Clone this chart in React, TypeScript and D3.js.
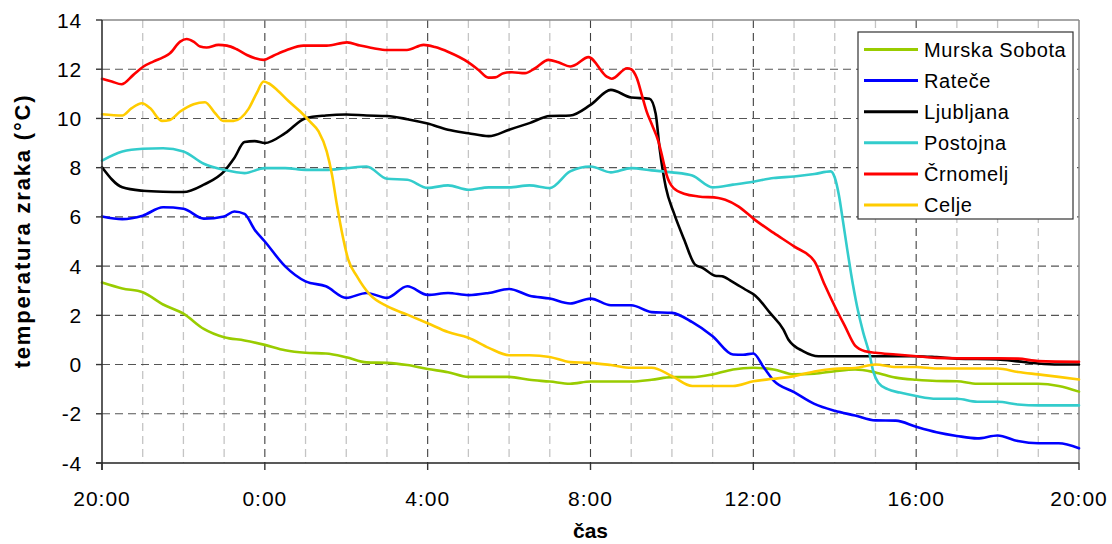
import * as d3 from "d3";
import React from "react";

// hours counted from 20:00 of the first day
const murskaSobota: [number, number][] = [
  [0, 3.33], [0.5, 3.09], [1, 2.94], [1.5, 2.44], [2, 2.07], [2.5, 1.45], [3, 1.11], [3.5, 0.98],
  [4, 0.8], [4.5, 0.58], [5, 0.48], [5.5, 0.45], [6, 0.3], [6.5, 0.09], [7, 0.07], [7.5, -0.02],
  [8, -0.18], [8.5, -0.31], [9, -0.5], [9.5, -0.5], [10, -0.5], [10.5, -0.62], [11, -0.69],
  [11.5, -0.78], [12, -0.69], [12.5, -0.69], [13, -0.69], [13.5, -0.62], [14, -0.51], [14.5, -0.51],
  [15, -0.4], [15.5, -0.2], [16, -0.13], [16.5, -0.2], [17, -0.4], [17.5, -0.37], [18, -0.27],
  [18.5, -0.2], [19, -0.32], [19.5, -0.53], [20, -0.62], [20.5, -0.67], [21, -0.68], [21.5, -0.78],
  [22, -0.78], [22.5, -0.78], [23, -0.78], [23.5, -0.87], [24, -1.1],
];

const ratece: [number, number][] = [
  [0, 6.02], [0.5, 5.91], [1, 6.05], [1.5, 6.39], [2, 6.33], [2.5, 5.93], [3, 6.02], [3.25, 6.22],
  [3.5, 6.12], [3.75, 5.48], [4, 5.0], [4.5, 3.99], [5, 3.38], [5.5, 3.18], [6, 2.71], [6.5, 2.91],
  [7, 2.71], [7.5, 3.18], [8, 2.83], [8.5, 2.91], [9, 2.82], [9.5, 2.91], [10, 3.07], [10.5, 2.8],
  [11, 2.68], [11.5, 2.48], [12, 2.68], [12.5, 2.41], [13, 2.41], [13.5, 2.13], [14, 2.1],
  [14.5, 1.72], [15, 1.15], [15.5, 0.41], [15.75, 0.4], [16, 0.45], [16.25, -0.1], [16.5, -0.65],
  [17, -1.12], [17.5, -1.6], [18, -1.88], [18.5, -2.07], [19, -2.27], [19.5, -2.28], [20, -2.53],
  [20.5, -2.75], [21, -2.9], [21.5, -3.0], [22, -2.88], [22.5, -3.11], [23, -3.2], [23.5, -3.2],
  [24, -3.4],
];

const ljubljana: [number, number][] = [
  [0, 8.02], [0.5, 7.2], [1, 7.06], [1.5, 7.02], [2, 7.01], [2.5, 7.31], [3, 7.85], [3.25, 8.39],
  [3.5, 9.04], [3.75, 9.08], [4, 9.0], [4.5, 9.4], [5, 10.01], [5.5, 10.12], [6, 10.16],
  [6.5, 10.12], [7, 10.1], [7.5, 9.97], [8, 9.79], [8.5, 9.54], [9, 9.4], [9.5, 9.28], [10, 9.54],
  [10.5, 9.81], [11, 10.1], [11.5, 10.12], [12, 10.55], [12.5, 11.16], [13, 10.85], [13.45, 10.8],
  [13.6, 10.2], [13.7, 8.75], [13.85, 7.2], [14.05, 6.15], [14.3, 5.08], [14.57, 4.06],
  [14.75, 3.93], [15.06, 3.61], [15.23, 3.59], [15.47, 3.38], [15.8, 3.05], [16.05, 2.8],
  [16.41, 2.1], [16.74, 1.42], [16.86, 1.02], [17.23, 0.54], [17.6, 0.34], [20, 0.34],
  [20.5, 0.3], [21, 0.24], [22, 0.21], [22.5, 0.13], [23, 0.04], [23.5, 0], [24, 0],
];

const postojna: [number, number][] = [
  [0, 8.29], [0.5, 8.66], [1, 8.77], [1.5, 8.79], [2, 8.66], [2.5, 8.16], [3, 7.91], [3.5, 7.78],
  [4, 7.98], [4.5, 7.98], [5, 7.91], [5.5, 7.91], [6, 7.98], [6.5, 8.05], [7, 7.55], [7.5, 7.51],
  [8, 7.18], [8.5, 7.28], [9, 7.1], [9.5, 7.2], [10, 7.2], [10.5, 7.28], [11, 7.17], [11.5, 7.85],
  [12, 8.05], [12.5, 7.81], [13, 7.98], [13.5, 7.89], [14, 7.81], [14.5, 7.68], [15, 7.2],
  [15.5, 7.31], [16, 7.43], [16.5, 7.58], [17, 7.64], [17.5, 7.74], [17.9, 7.85], [18.0, 7.6],
  [18.1, 6.9], [18.2, 5.85], [18.3, 4.75], [18.4, 3.7], [18.55, 2.35], [18.7, 1.3], [18.85, 0.45],
  [18.95, -0.3], [19.07, -0.74], [19.3, -1.0], [19.6, -1.14], [20, -1.28], [20.5, -1.39],
  [21, -1.39], [21.5, -1.51], [22, -1.51], [22.5, -1.62], [23, -1.66], [24, -1.66],
];

const crnomelj: [number, number][] = [
  [0, 11.61], [0.24, 11.5], [0.48, 11.39], [0.77, 11.77], [1.02, 12.11], [1.26, 12.31],
  [1.51, 12.49], [1.67, 12.65], [1.92, 13.12], [2.08, 13.23], [2.25, 13.12], [2.41, 12.92],
  [2.57, 12.88], [2.86, 12.99], [3.07, 12.96], [3.31, 12.81], [3.56, 12.58], [3.76, 12.45],
  [3.97, 12.38], [4.21, 12.55], [4.54, 12.78], [4.95, 12.96], [5.52, 12.96], [6.02, 13.09],
  [6.34, 12.96], [6.67, 12.85], [7.0, 12.78], [7.49, 12.78], [7.9, 12.99], [8.18, 12.9],
  [8.51, 12.7], [9.0, 12.28], [9.25, 11.97], [9.49, 11.66], [9.66, 11.67], [9.86, 11.84],
  [10.07, 11.88], [10.39, 11.84], [10.64, 12.04], [10.97, 12.38], [11.21, 12.28], [11.5, 12.11],
  [11.62, 12.17], [11.95, 12.49], [12.4, 11.7], [12.52, 11.61], [12.9, 12.04], [13.0, 12.0],
  [13.14, 11.63], [13.26, 10.96], [13.38, 10.28], [13.51, 9.74], [13.67, 9.06], [13.79, 8.25],
  [13.87, 7.71], [14.04, 7.17], [14.32, 6.93], [14.65, 6.83], [15.14, 6.77], [15.31, 6.7],
  [15.63, 6.43], [16.04, 5.88], [16.5, 5.35], [17, 4.8], [17.5, 4.2], [17.75, 3.25], [18, 2.37],
  [18.25, 1.56], [18.5, 0.77], [18.75, 0.54], [19, 0.48], [19.5, 0.41], [20, 0.34], [20.5, 0.27],
  [21, 0.25], [22, 0.25], [22.5, 0.24], [23, 0.14], [24, 0.11],
];

const celje: [number, number][] = [
  [0, 10.17], [0.5, 10.12], [0.73, 10.42], [0.98, 10.62], [1.18, 10.42], [1.47, 9.9],
  [1.67, 9.94], [1.92, 10.28], [2.25, 10.58], [2.53, 10.66], [2.78, 10.21], [2.98, 9.9],
  [3.23, 9.9], [3.6, 10.39], [3.8, 11.03], [3.97, 11.5], [4.09, 11.43], [4.3, 11.16],
  [4.58, 10.71], [4.87, 10.28], [5.11, 9.87], [5.32, 9.47], [5.52, 8.66], [5.65, 7.71],
  [5.77, 6.49], [5.89, 5.41], [6.05, 4.26], [6.26, 3.59], [6.58, 2.84], [7, 2.37], [7.5, 2.03],
  [8, 1.68], [8.5, 1.32], [9, 1.09], [9.5, 0.68], [10, 0.38], [10.5, 0.38], [11, 0.31],
  [11.5, 0.1], [12, 0.07], [12.5, -0.02], [13, -0.13], [13.5, -0.13], [14, -0.47], [14.5, -0.87],
  [15, -0.87], [15.5, -0.87], [16, -0.68], [16.5, -0.58], [17, -0.47], [17.5, -0.28], [18, -0.17],
  [18.5, -0.14], [19, 0.0], [19.5, -0.1], [20, -0.1], [20.5, -0.16], [22, -0.16], [22.5, -0.3],
  [23, -0.4], [23.5, -0.5], [24, -0.61],
];

const seriesNames = ["Murska Sobota", "Rateče", "Ljubljana", "Postojna", "Črnomelj", "Celje"];
const seriesColors = ["#99CC00", "#0000FF", "#000000", "#33CCCC", "#FF0000", "#FFCC00"];
const seriesData = [murskaSobota, ratece, ljubljana, postojna, crnomelj, celje];

const xTickHours = [0, 4, 8, 12, 16, 20, 24];
const xTickLabels = ["20:00", "0:00", "4:00", "8:00", "12:00", "16:00", "20:00"];
const yTicks = [-4, -2, 0, 2, 4, 6, 8, 10, 12, 14];

const font = "'Liberation Sans', Arial, sans-serif";

export default function App() {
  const svgWidth = 1112;
  const svgHeight = 544;
  const left = 102, right = 1079, top = 20, bottom = 463;

  const x = d3.scaleLinear().domain([0, 24]).range([left, right]);
  const y = d3.scaleLinear().domain([-4, 14]).range([bottom, top]);

  const line = d3.line<[number, number]>()
    .x(d => x(d[0]))
    .y(d => y(d[1]))
    .curve(d3.curveMonotoneX);

  const hours = d3.range(1, 24);
  const legendX = 858, legendY = 32, legendW = 215, legendH = 187;

  return (
    <svg width={svgWidth} height={svgHeight} style={{ position: "absolute", left: 0, top: 0, background: "#fff" }}
      fontFamily={font}>
      <rect x={0} y={0} width={svgWidth} height={svgHeight} fill="#fff" />
      {/* minor vertical grid */}
      {hours.filter(h => h % 4 !== 0).map(h => (
        <line key={"mv" + h} x1={x(h)} x2={x(h)} y1={top} y2={bottom}
          stroke="#c4c4c4" strokeWidth={1.3} strokeDasharray="8,5" />
      ))}
      {/* major vertical grid */}
      {hours.filter(h => h % 4 === 0).map(h => (
        <line key={"Mv" + h} x1={x(h)} x2={x(h)} y1={top} y2={bottom}
          stroke="#404040" strokeWidth={1.1} strokeDasharray="8,5" />
      ))}
      {/* horizontal grid */}
      {yTicks.filter(v => v > -4 && v < 14).map(v => (
        <line key={"h" + v} x1={left} x2={right} y1={y(v)} y2={y(v)}
          stroke="#555" strokeWidth={1.1} strokeDasharray="8,5" />
      ))}
      {/* plot frame */}
      <line x1={left} x2={right} y1={top} y2={top} stroke="#888" strokeWidth={1.5} />
      <line x1={right} x2={right} y1={top} y2={bottom} stroke="#888" strokeWidth={1.5} />

      {/* series */}
      {seriesData.map((d, i) => (
        <path key={seriesNames[i]} d={line(d) || ""} fill="none" stroke={seriesColors[i]}
          strokeWidth={2.6} strokeLinejoin="round" strokeLinecap="round" />
      ))}

      {/* axes */}
      <line x1={left} x2={left} y1={top} y2={bottom + 7} stroke="#333" strokeWidth={1.6} />
      <line x1={left - 6} x2={right} y1={bottom} y2={bottom} stroke="#222" strokeWidth={1.6} />
      {yTicks.map(v => (
        <g key={"yt" + v}>
          <line x1={left - 6} x2={left} y1={y(v)} y2={y(v)} stroke="#333" strokeWidth={1.4} />
          <text x={82} y={y(v)} textAnchor="end" dominantBaseline="central" fontSize={21}
            letterSpacing={0.8}>{v}</text>
        </g>
      ))}
      {xTickHours.map((h, i) => (
        <g key={"xt" + i}>
          <line x1={x(h)} x2={x(h)} y1={bottom} y2={bottom + 7} stroke="#333" strokeWidth={1.4} />
          <text x={x(h)} y={506} textAnchor="middle" fontSize={21} letterSpacing={1}>{xTickLabels[i]}</text>
        </g>
      ))}

      {/* axis titles */}
      <text x={(left + right) / 2} y={538} textAnchor="middle" fontSize={21} fontWeight="bold">čas</text>
      <text transform="translate(30,231) rotate(-90)" textAnchor="middle"
        fontSize={22} fontWeight="bold" letterSpacing={1.8}>temperatura zraka (°C)</text>

      {/* legend */}
      <rect x={legendX} y={legendY} width={legendW} height={legendH} fill="#fff" stroke="#333" strokeWidth={1.2} />
      {seriesNames.map((name, i) => {
        const ly = 49.5 + i * 31.1;
        return (
          <g key={"lg" + i}>
            <line x1={864} x2={918} y1={ly} y2={ly} stroke={seriesColors[i]} strokeWidth={3} />
            <text x={924} y={ly} dominantBaseline="central" fontSize={20} letterSpacing={0.6}>{name}</text>
          </g>
        );
      })}
    </svg>
  );
}
